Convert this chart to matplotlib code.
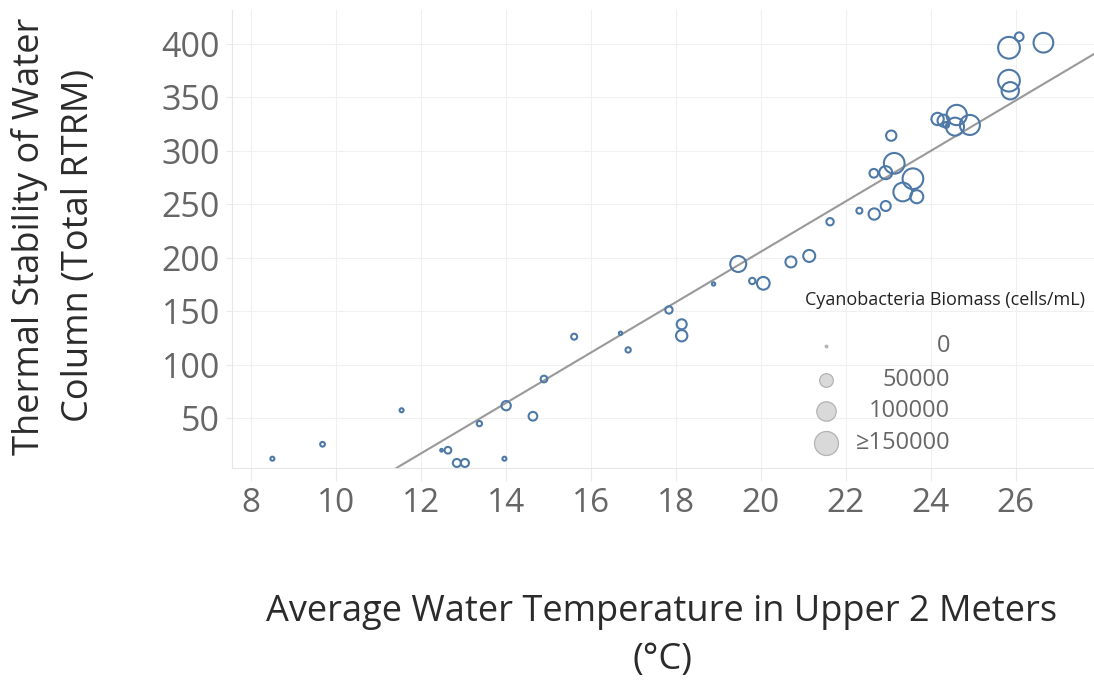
import numpy as np
import matplotlib
matplotlib.use("Agg")
import matplotlib.pyplot as plt

# ---------------- data ----------------
water_temp_c = [8.51, 9.69, 11.55, 12.49, 12.64, 12.85, 13.04, 13.38, 13.97, 14.01,
                14.64, 14.90, 15.61, 16.70, 16.88, 17.84, 18.14, 18.14, 18.89, 19.47,
                19.80, 20.06, 20.71, 21.14, 21.63, 22.32, 22.67, 22.94, 22.66, 22.94,
                23.14, 23.07, 23.58, 23.34, 23.67, 24.16, 24.30, 24.36, 24.61, 24.57,
                24.92, 25.84, 26.08, 26.65, 25.84, 25.87]
rtrm = [12.2, 25.7, 57.5, 20.1, 20.1, 8.2, 8.2, 45.0, 12.2, 61.8,
        51.9, 86.7, 126.3, 129.5, 113.9, 151.3, 137.9, 127.2, 175.6, 194.3,
        178.4, 176.2, 196.2, 201.8, 233.8, 244.1, 241.0, 248.5, 279.1, 279.7,
        288.4, 314.3, 274.0, 261.6, 257.2, 329.9, 328.3, 324.3, 333.6, 322.7,
        324.3, 396.5, 406.8, 401.2, 365.7, 356.3]
biomass = [6600, 8800, 6600, 3200, 16300, 22200, 22200, 10700, 6600, 29000,
           25700, 16300, 13400, 4700, 10700, 18900, 32900, 41000, 4700, 76800,
           14600, 50500, 39000, 45600, 18900, 13400, 41000, 32900, 25700, 52700,
           123400, 34600, 123400, 102300, 52700, 47700, 45600, 13400, 119000, 95400,
           115900, 135000, 25700, 112700, 135000, 88700]

trend_slope = 23.59
trend_intercept = -266.1

legend_values = [0, 50000, 100000, 150000]
legend_labels = ["0", "50000", "100000", "\u2265150000"]

x_ticks = [8, 10, 12, 14, 16, 18, 20, 22, 24, 26]
y_ticks = [50, 100, 150, 200, 250, 300, 350, 400]

# ---------------- style ----------------
plt.rcParams['font.family'] = ['Open Sans', 'DejaVu Sans']
W, H = 1094, 683
PT = 72 / 100.0  # points per pixel


def outer_diam_px(v):
    return np.sqrt(9 + 0.0041 * np.asarray(v, dtype=float))


fig = plt.figure(figsize=(W / 100, H / 100), dpi=100)
ax = fig.add_axes([232 / W, 1 - 468 / H, (W - 232) / W, (468 - 10) / H])
ax.set_xlim(7.56, 27.84)
ax.set_ylim(3.5, 431.8)

for s in ['top', 'right']:
    ax.spines[s].set_visible(False)
for s in ['left', 'bottom']:
    ax.spines[s].set_color('#e6e6e6')
    ax.spines[s].set_linewidth(0.8)

ax.set_xticks(x_ticks)
ax.set_yticks(y_ticks)
ax.grid(True, color='#f0f0f0', linewidth=0.8)
ax.set_axisbelow(True)
ax.tick_params(axis='x', length=9, width=0.8, color='#ebebeb', pad=5,
               labelsize=24, labelcolor='#666666')
ax.tick_params(axis='y', length=4.5, width=0.8, color='#ebebeb', pad=4,
               labelsize=24.5, labelcolor='#666666')

# trend line
xl = np.array(ax.get_xlim())
ax.plot(xl, trend_slope * xl + trend_intercept, color='#999999', lw=1.5, zorder=2)

# bubbles
d = outer_diam_px(biomass)
sizes = ((d - 2) * PT) ** 2
ax.scatter(water_temp_c, rtrm, s=sizes, facecolors='none', edgecolors='#4e79a7',
           linewidths=1.5, zorder=3, clip_on=False)

# legend (manual)
fig.text(805 / W, 1 - 300 / H, "Cyanobacteria Biomass (cells/mL)", fontsize=13,
         color='#222222', ha='left', va='center')
leg_y = [346, 380, 411, 443]
for v, lab, yy in zip(legend_values, legend_labels, leg_y):
    dd = outer_diam_px(v)
    if v == 0:
        fig.add_artist(plt.Line2D([826 / W], [1 - yy / H], marker='o', markersize=2.5 * PT,
                                  color='#b5b5b5', linestyle='none', transform=fig.transFigure))
    else:
        fig.add_artist(plt.Line2D([826 / W], [1 - yy / H], marker='o', markersize=(dd - 1) * PT,
                                  markerfacecolor='#d9d9d9', markeredgecolor='#b3b3b3',
                                  markeredgewidth=0.9, linestyle='none',
                                  transform=fig.transFigure))
    fig.text(950 / W, 1 - yy / H, lab, fontsize=17, color='#666666', ha='right', va='center')

# axis titles
title_kw = dict(fontsize=26, color='#2b2b2b', ha='center', va='center')
fig.text(662 / W, 1 - 612 / H, "Average Water Temperature in Upper 2 Meters", **title_kw)
fig.text(662 / W, 1 - 660 / H, "(\u00b0C)", **title_kw)
fig.text(30 / W, 1 - 236 / H, "Thermal Stability of Water", rotation=90, **title_kw)
fig.text(79 / W, 1 - 245 / H, "Column (Total RTRM)", rotation=90, **title_kw)

fig.savefig("out.png", dpi=100)
